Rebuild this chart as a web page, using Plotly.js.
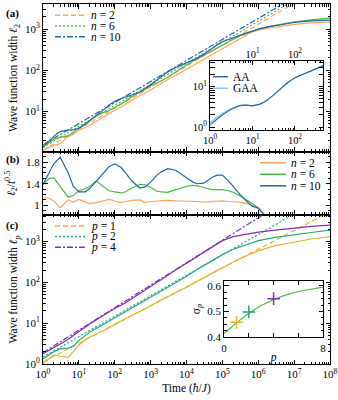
<!DOCTYPE html>
<html lang="en">
<head>
<meta charset="UTF-8">
<title>Wave function width vs time</title>
<script src="https://cdn.plot.ly/plotly-3.0.1.min.js"></script>
<style>
  html, body { margin: 0; padding: 0; background: #fff; }
  #chart { width: 338px; height: 400px; }
</style>
</head>
<body>
<div id="chart"></div>
<script>
// ---- data ----
// panel (a): wave function width l2 for n = 2, 6, 10
const timeA = [1,1.5,2,3,5,7,10,15,20,30,50,70,100,150,200,300,500,700,1e3,1.5e3,2e3,3e3,5e3,7e3,1e4,1.5e4,2e4,3e4,5e4,7e4,1e5,1.5e5,2e5,3e5,5e5,7e5,1e6,2e6,5e6,1e7,3e7,1e8];
const widthN2 = [1.14,1.38,1.53,1.65,2.46,2.80, 3.51,4.11,4.61,5.75,7.64,9.29, 10.8,12.9,15.1,18.9,24.6,27.8, 33.8,41.8,48.7,59.7,76.4,90.4, 108,132,151,184,239,286, 341,414,478,590,740,860, 940,1060,1200,1300,1420,1500];
const widthN6 = [1.38,1.84,2.14,2.36,2.57,3.12, 4.02,5.07,6.04,7.94,9.55,10.6, 12.5,15.1,17.7,22.9,31.1,36.5, 42.1,48.8,55.9,67.9,91.2,110, 135,168,192,230,288,341, 408,492,560,680,800,900, 1000,1150,1360,1500,1680,1850];
const widthN10 = [1.39,1.98,2.50,3.27,3.60,3.57, 3.95,4.84,5.86,7.89,11.3,14.4, 17.7,20.8,22.6,25.1,29.5,35.5, 45.2,60.4,72.4,92.0,117,132, 150,175,198,244,338,413, 493,562,610,720,820,900, 1000,1150,1330,1450,1580,1660];
// power-law fits (dashed), end points
const timeFit = [1, 1e8];
const fitN2 = [1.15, 13800];
const fitN6 = [1.35, 16200];
const fitN10 = [1.58, 19100];

// inset (a): AA vs GAA
const timeInset = [1,1.5,2,3,5,7,10,15,20,30,50,70,100,150,200,300,470];
const widthAA = [1.15,1.6,2.05,2.7,3.4,3.5,3.35,3.7,4.3,6.0,9.5,13,16.5,19.5,22,27,33];
const widthGAA = [1.3,1.8,2.25,2.85,3.45,3.5,3.35,3.7,4.3,6.0,9.5,13,16.5,19.5,22,27,33];

// panel (b): l2 / t^0.5
const timeB = [1,1.5,2,3,5,7,10,15,20,30,50,70,100,150,200,300,500,700,1e3,1.5e3,2e3,3e3,5e3,7e3,1e4,1.5e4,2e4,3e4,5e4,7e4,1e5,1.5e5,2e5,3e5,5e5,7e5,1e6,1.5e6,2e6];
const ratioN2 = [1.14,1.13,1.08,0.95,1.10,1.06, 1.11,1.06,1.03,1.05,1.08,1.11, 1.08,1.05,1.07,1.09,1.10,1.05, 1.07,1.08,1.09,1.09,1.08,1.08, 1.08,1.08,1.07,1.06,1.07,1.08, 1.08,1.07,1.07,1.06,1.03,1.00, 0.94,0.82,0.72];
const ratioN6 = [1.38,1.50,1.51,1.36,1.15,1.18, 1.27,1.31,1.35,1.45,1.35,1.27, 1.25,1.23,1.25,1.32,1.39,1.38, 1.33,1.26,1.25,1.24,1.29,1.32, 1.35,1.37,1.36,1.33,1.29,1.29, 1.29,1.27,1.24,1.18,1.09,1.03, 0.95,0.82,0.72];
const ratioN10 = [1.385,1.62,1.77,1.89,1.61,1.35, 1.25,1.25,1.31,1.44,1.60,1.72, 1.77,1.70,1.60,1.45,1.32,1.34, 1.43,1.56,1.62,1.68,1.65,1.58, 1.50,1.43,1.40,1.41,1.51,1.56, 1.56,1.45,1.35,1.21,1.06,0.98, 0.95,0.82,0.72];

// panel (c): wave function width lp for p = 1, 2, 4
const timeC = [1,1.5,2,3,5,7,10,20,50,100,200,500,1e3,2e3,5e3,1e4,2e4,5e4,1e5,2e5,5e5,1e6,3e6,1e7,3e7,1e8];
const widthP1 = [1.02,1.35,1.66,1.55,1.45,2.0,2.9,4.57,6.61,9.33,12.6,18.6,26.3,37.2,55.0,75.9,107,166,229,316,457,589,794,977,1150,1320];
const widthP2 = [1.35,1.66,2.0,2.34,2.45,2.75,3.8,6.03,9.55,13.5,19.1,29.5,42.7,61.7,97.7,141,209,331,479,646,871,1050,1260,1480,1660,1900];
const widthP4 = [1.78,2.19,2.51,3.09,3.98,5.01,6.31,9.55,15.8,22.9,31.6,52.5,79.4,117,200,295,437,724,1050,1320,1550,1700,1900,2140,2340,2510];
const fitP1 = [1.12, 5370];
const fitP2 = [1.48, 14800];
const fitP4 = [1.9, 47900];

// inset (c): exponent sigma_p
const pGrid = [0,1,2,3,4,5,6,7,8];
const sigmaCurve = [0.413,0.455,0.493,0.523,0.547,0.565,0.578,0.588,0.595];
const pPoints = [1,2,4];
const sigmaPoints = [0.457,0.498,0.550];

// ---- styling ----
const FONT = 'Liberation Serif';
const C_N2 = '#fca55d', C_N6 = '#4cb848', C_N10 = '#1f66a6';
const C_AA = '#2c6aa6', C_GAA = '#8ccaee';
const C_P1 = '#e6b62e', C_P2 = '#1aa884', C_P4 = '#7a2fb8';
const DASH = '5px,3px', DOT = '2px,2px', DASHDOT = '6px,2px,2px,2px';
const LW = 1.2;

function line(x, y, color, xa, ya, dash) {
  return { x: x, y: y, type: 'scatter', mode: 'lines', xaxis: xa, yaxis: ya,
           line: { color: color, width: LW, dash: dash || 'solid' }, hoverinfo: 'skip' };
}

function powerTicks(lo, hi) {
  const vals = [], text = [];
  for (let k = lo; k <= hi; k++) { vals.push(Math.pow(10, k)); text.push('10<sup>' + k + '</sup>'); }
  return { tickvals: vals, ticktext: text };
}
function minorLog(lo, hi) {
  const v = [];
  for (let k = lo; k < hi; k++) for (let d = 2; d <= 9; d++) v.push(d * Math.pow(10, k));
  return { tickmode: 'array', tickvals: v, ticks: 'inside', ticklen: 2.5, tickcolor: '#000' };
}

const base = {
  showline: true, linecolor: '#000', linewidth: 1, mirror: 'allticks',
  ticks: 'inside', ticklen: 4.5, tickwidth: 1, tickcolor: '#000',
  showgrid: false, zeroline: false, fixedrange: true,
  tickfont: { family: FONT, size: 11, color: '#000' }
};
const titleFont = { family: FONT, size: 11.5, color: '#000' };
const smallTick = { family: FONT, size: 10.5, color: '#000' };

const traces = [
  // panel (a)
  line(timeFit, fitN2, C_N2, 'x', 'y', DASH),
  line(timeFit, fitN6, C_N6, 'x', 'y', DOT),
  line(timeFit, fitN10, C_N10, 'x', 'y', DASHDOT),
  line(timeA, widthN2, C_N2, 'x', 'y'),
  line(timeA, widthN6, C_N6, 'x', 'y'),
  line(timeA, widthN10, C_N10, 'x', 'y'),
  // inset (a)
  line(timeInset, widthGAA, C_GAA, 'x4', 'y4'),
  line(timeInset, widthAA, C_AA, 'x4', 'y4'),
  // carrier for the top tick labels of the inset (draws nothing)
  { x: timeInset, y: widthAA, type: 'scatter', mode: 'none', xaxis: 'x5', yaxis: 'y4', hoverinfo: 'skip' },
  // panel (b)
  line(timeB, ratioN2, C_N2, 'x2', 'y2'),
  line(timeB, ratioN6, C_N6, 'x2', 'y2'),
  line(timeB, ratioN10, C_N10, 'x2', 'y2'),
  // panel (c)
  line(timeFit, fitP1, C_P1, 'x3', 'y3', DASH),
  line(timeFit, fitP2, C_P2, 'x3', 'y3', DOT),
  line(timeFit, fitP4, C_P4, 'x3', 'y3', DASHDOT),
  line(timeC, widthP1, C_P1, 'x3', 'y3'),
  line(timeC, widthP2, C_P2, 'x3', 'y3'),
  line(timeC, widthP4, C_P4, 'x3', 'y3'),
  // inset (c)
  line(pGrid, sigmaCurve, C_N6, 'x6', 'y6'),
  { x: pPoints, y: sigmaPoints, type: 'scatter', mode: 'markers', xaxis: 'x6', yaxis: 'y6',
    marker: { symbol: 'cross-thin', size: 9, line: { width: 1.5, color: [C_P1, C_P2, C_P4] } },
    hoverinfo: 'skip' }
];

// hand-made legends (tight rows like the original)
const shapes = [], annotations = [];
function legend(entries, x0, x1, xt, ys) {
  entries.forEach((e, i) => {
    shapes.push({ type: 'line', xref: 'paper', yref: 'paper', x0: x0, x1: x1, y0: ys[i], y1: ys[i],
                  line: { color: e.color, width: 1.5, dash: e.dash || 'solid' } });
    annotations.push({ xref: 'paper', yref: 'paper', x: xt, y: ys[i], xanchor: 'left', yanchor: 'middle',
                       text: e.text, showarrow: false, font: { family: FONT, size: 11.5, color: '#000' } });
  });
}
legend([{ text: '<i>n</i> = 2', color: C_N2, dash: DASH },
        { text: '<i>n</i> = 6', color: C_N6, dash: DOT },
        { text: '<i>n</i> = 10', color: C_N10, dash: DASHDOT }],
       0.042, 0.146, 0.160, [0.969, 0.939, 0.909]);
legend([{ text: 'AA', color: C_AA }, { text: 'GAA', color: C_GAA }],
       0.592, 0.645, 0.655, [0.798, 0.766]);
legend([{ text: '<i>n</i> = 2', color: C_N2 },
        { text: '<i>n</i> = 6', color: C_N6 },
        { text: '<i>n</i> = 10', color: C_N10 }],
       0.756, 0.847, 0.857, [0.559, 0.527, 0.495]);
legend([{ text: '<i>p</i> = 1', color: C_P1, dash: DASH },
        { text: '<i>p</i> = 2', color: C_P2, dash: DOT },
        { text: '<i>p</i> = 4', color: C_P4, dash: DASHDOT }],
       0.042, 0.146, 0.160, [0.383, 0.354, 0.324]);

[['(a)', 0.975], ['(b)', 0.569], ['(c)', 0.386]].forEach(p => {
  annotations.push({ xref: 'paper', yref: 'paper', x: -0.105, y: p[1], xanchor: 'center', yanchor: 'middle',
                     text: '<b>' + p[0] + '</b>', showarrow: false, font: { family: FONT, size: 11, color: '#000' } });
});

const decTicks = powerTicks(0, 8);
const layout = {
  width: 338, height: 400,
  margin: { l: 43, r: 8, t: 4, b: 36 },
  paper_bgcolor: '#fff', plot_bgcolor: 'rgba(0,0,0,0)',
  showlegend: false,
  font: { family: FONT, size: 11, color: '#000' },
  // panel (a)
  xaxis: Object.assign({}, base, { type: 'log', range: [0, 8], domain: [0, 1], anchor: 'y',
    tickvals: decTicks.tickvals, showticklabels: false, minor: minorLog(0, 8) }),
  yaxis: Object.assign({}, base, { type: 'log', range: [0.02, 3.61], domain: [0.589, 1], anchor: 'x' },
    powerTicks(0, 3), { minor: minorLog(0, 4),
    title: { text: 'Wave function width <i>ℓ</i><sub>2</sub>', font: titleFont, standoff: 4 } }),
  // panel (b)
  xaxis2: Object.assign({}, base, { type: 'log', range: [0, 8], domain: [0, 1], anchor: 'y2',
    tickvals: decTicks.tickvals, showticklabels: false, minor: minorLog(0, 8) }),
  yaxis2: Object.assign({}, base, { range: [0.82, 1.99], domain: [0.414, 0.589], anchor: 'x2',
    tickvals: [1, 1.4, 1.8], ticktext: ['1', '1.4', '1.8'],
    minor: { dtick: 0.1, tick0: 0, ticks: 'inside', ticklen: 2.5, tickcolor: '#000' },
    title: { text: '<i>ℓ</i><sub>2</sub>/<i>t</i><sup>0.5</sup>', font: titleFont, standoff: 8 } }),
  // panel (c)
  xaxis3: Object.assign({}, base, { type: 'log', range: [0, 8], domain: [0, 1], anchor: 'y3' },
    decTicks, { minor: minorLog(0, 8),
    title: { text: 'Time (<i>ħ</i>/<i>J</i>)', font: titleFont, standoff: 4 } }),
  yaxis3: Object.assign({}, base, { type: 'log', range: [0, 3.65], domain: [0, 0.414], anchor: 'x3' },
    powerTicks(0, 3), { minor: minorLog(0, 4),
    title: { text: 'Wave function width <i>ℓ</i><sub><i>p</i></sub>', font: titleFont, standoff: 4 } }),
  // inset (a)
  xaxis4: Object.assign({}, base, { type: 'log', range: [0, 2.67], domain: [0.582, 0.977], anchor: 'y4' },
    powerTicks(0, 2), { minor: minorLog(0, 3), tickfont: smallTick }),
  yaxis4: Object.assign({}, base, { type: 'log', range: [-0.07, 1.64], domain: [0.650, 0.8425], anchor: 'x4' },
    powerTicks(0, 1), { minor: minorLog(-1, 2), tickfont: smallTick }),
  xaxis5: { type: 'log', range: [0, 2.67], overlaying: 'x4', anchor: 'y4', side: 'top',
    tickvals: [10, 100], ticktext: ['10<sup>1</sup>', '10<sup>2</sup>'], ticks: '', showline: false,
    showgrid: false, zeroline: false, fixedrange: true, tickfont: smallTick },
  // inset (c)
  xaxis6: Object.assign({}, base, { range: [0, 8], domain: [0.631, 0.976], anchor: 'y6',
    tickvals: [0, 2, 4, 6, 8], ticktext: ['0', '', '', '', '8'],
    title: { text: '<i>p</i>', font: titleFont, standoff: 0 } }),
  yaxis6: Object.assign({}, base, { range: [0.398, 0.62], domain: [0.074, 0.231], anchor: 'x6',
    tickvals: [0.4, 0.5, 0.6], ticktext: ['0.4', '0.5', '0.6'],
    minor: { dtick: 0.025, tick0: 0.4, ticks: 'inside', ticklen: 2.5, tickcolor: '#000' },
    title: { text: 'σ<sub><i>p</i></sub>', font: titleFont, standoff: 4 } }),
  shapes: shapes,
  annotations: annotations
};

Plotly.newPlot('chart', traces, layout, { staticPlot: true, displayModeBar: false });
</script>
</body>
</html>
